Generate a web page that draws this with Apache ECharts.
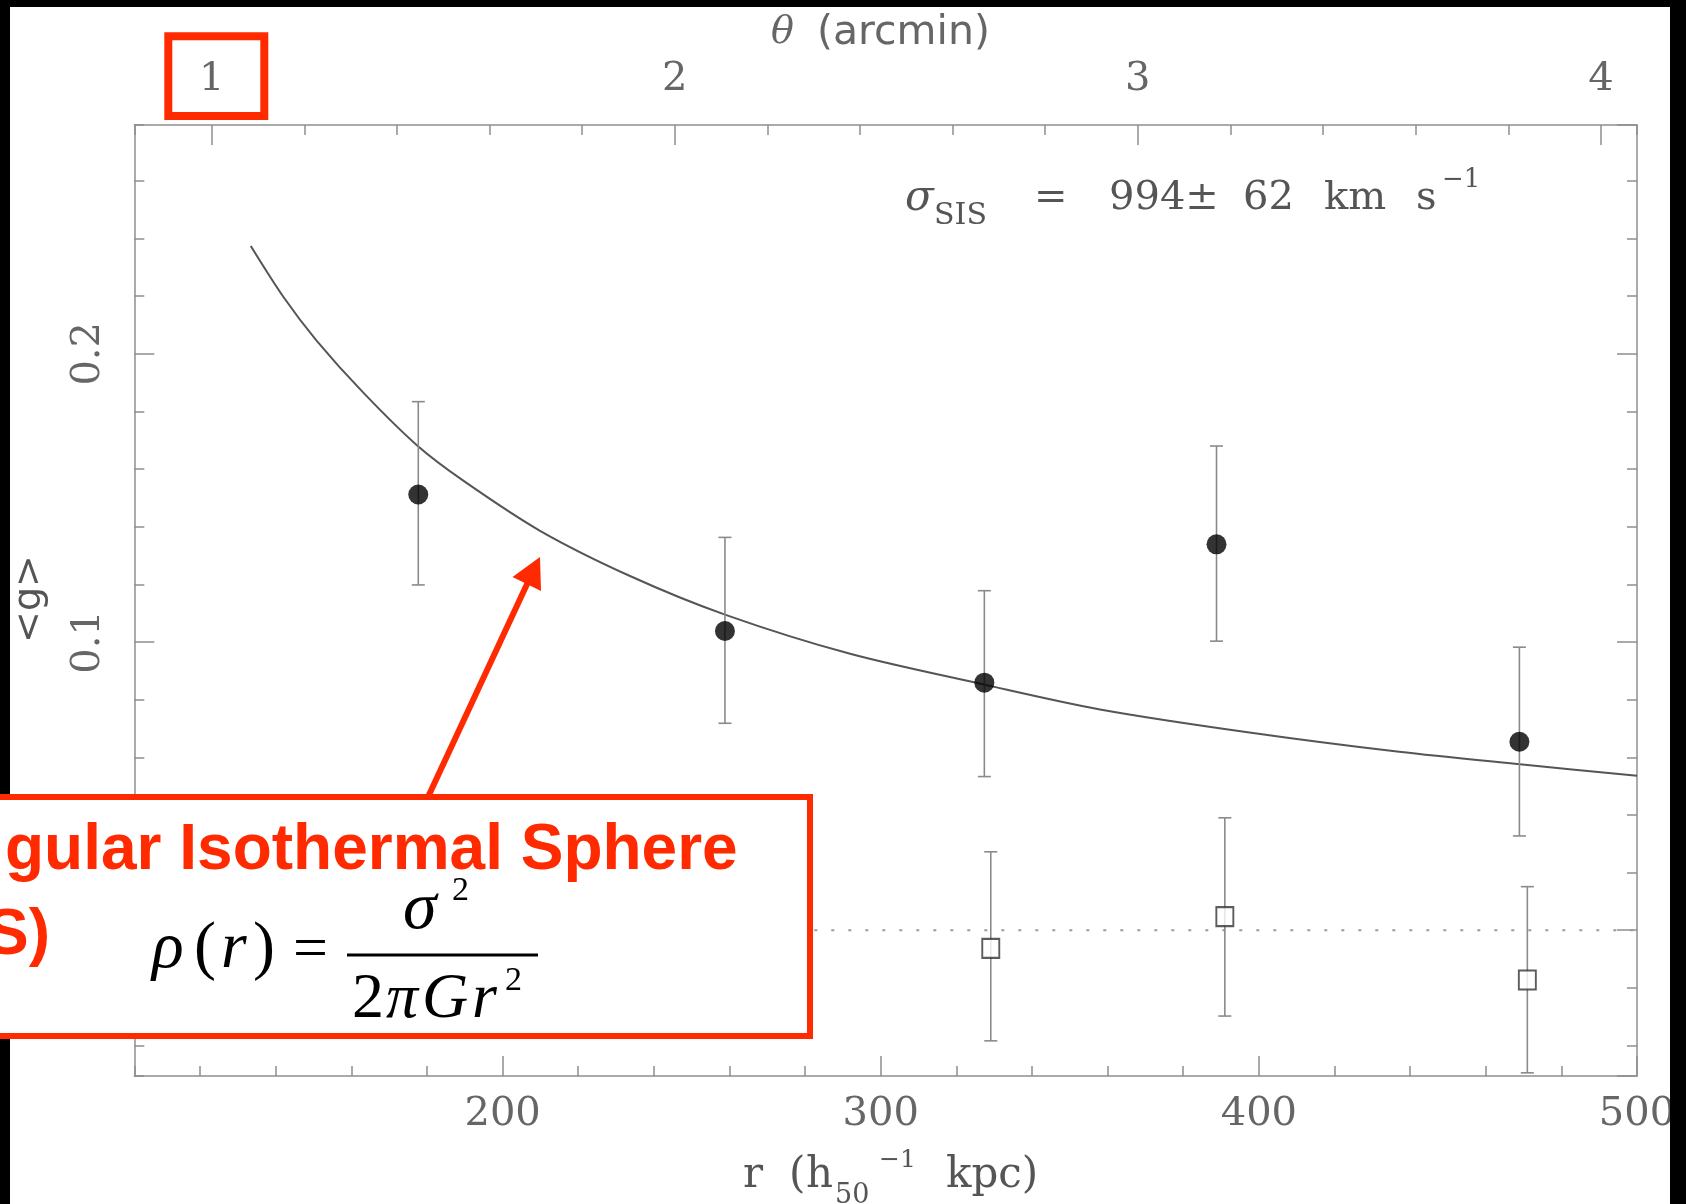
<!DOCTYPE html>
<html><head><meta charset="utf-8">
<script src="https://cdn.jsdelivr.net/npm/echarts@6/dist/echarts.min.js"></script>
<style>html,body{margin:0;padding:0;background:#fff;} #c{width:1686px;height:1204px;}</style>
</head><body><div id="c"></div>
<script>
// ---- axis extents ----
const rRange = [102.6, 500];          // r (h50^-1 kpc), bottom axis
const thetaRange = [0.833, 4.078];    // theta (arcmin), top axis
const gRange = [-0.0506, 0.2794];     // <g>

// ---- filled circles with error bars ----
const filledR    = [177.7, 258.8, 327.4, 388.8, 468.9];
const filledG    = [0.1512, 0.1038, 0.0859, 0.1339, 0.0654];
const filledLow  = [0.1198, 0.0718, 0.0533, 0.1003, 0.0327];
const filledHigh = [0.1834, 0.1363, 0.1178, 0.1680, 0.0982];

// ---- open squares with error bars ----
const openR    = [329.1, 391.0, 471.0];
const openG    = [-0.0063, 0.0047, -0.0173];
const openLow  = [-0.0384, -0.0298, -0.0495];
const openHigh = [0.0272, 0.0390, 0.0151];

// ---- SIS fit curve ----
const curveR = [133.4, 142.0, 150.8, 163.1, 177.4, 189.6, 209.9, 233.7, 258.8, 291.9, 327.1, 358.0, 397.5, 437.1, 469.7, 500];
const curveG = [0.2374, 0.2198, 0.2046, 0.1866, 0.1682, 0.1560, 0.1386, 0.1229, 0.1095, 0.0959, 0.0853, 0.0766, 0.0686, 0.0619, 0.0575, 0.0536];

// ---- dotted zero line ----
const zeroR = [102.6, 500];
const zeroG = [0, 0];

const RED = '#ff2a00';
const AX = '#8f8f8f';
const LBL = '#666';

function errorBarItem(params, api) {
  const x = api.value(0), lo = api.value(1), hi = api.value(2);
  const pLo = api.coord([x, lo]), pHi = api.coord([x, hi]);
  const cap = 6.5;
  const style = {stroke: '#8a8a8a', lineWidth: 1.6};
  return {type: 'group', children: [
    {type: 'line', shape: {x1: pLo[0], y1: pLo[1], x2: pHi[0], y2: pHi[1]}, style: style},
    {type: 'line', shape: {x1: pLo[0] - cap, y1: pLo[1], x2: pLo[0] + cap, y2: pLo[1]}, style: style},
    {type: 'line', shape: {x1: pHi[0] - cap, y1: pHi[1], x2: pHi[0] + cap, y2: pHi[1]}, style: style}
  ]};
}

function T(text, x, y, o) {
  o = o || {};
  return {
    type: 'text', x: x, y: y, z: o.z || 20, rotation: o.rotation || 0,
    style: {
      text: text,
      fontFamily: o.family || 'DejaVu Serif',
      fontSize: o.size || 40,
      fontStyle: o.style || 'normal',
      fontWeight: o.weight || 'normal',
      fill: o.fill || '#555',
      align: o.align || 'left',
      verticalAlign: 'middle'
    }
  };
}

const F = 'Liberation Serif';
const graphics = [
  // black frame bands
  {type: 'rect', shape: {x: 0, y: 0, width: 10, height: 1204}, style: {fill: '#000'}, z: 50},
  {type: 'rect', shape: {x: 0, y: 0, width: 1686, height: 7}, style: {fill: '#000'}, z: 50},
  {type: 'rect', shape: {x: 1670, y: 0, width: 16, height: 1204}, style: {fill: '#000'}, z: 50},

  // sigma label
  T('σ', 905, 199, {size: 42, style: 'italic'}),
  T('SIS', 934, 216.6, {size: 30}),
  T('=', 1034, 199),
  T('994±', 1109, 199),
  T('62', 1243, 199),
  T('km', 1324, 199),
  T('s', 1416, 199),
  T('−1', 1442, 180, {size: 26}),

  // top title
  T('θ', 771, 33, {size: 38, style: 'italic', fill: '#666'}),
  T('(arcmin)', 817, 33, {family: 'DejaVu Sans', size: 41, fill: '#666'}),

  // bottom axis name
  T('r', 743, 1176, {size: 42}),
  T('(', 789, 1176, {size: 42}),
  T('h', 806, 1176, {size: 42}),
  T('50', 835, 1196, {size: 27}),
  T('−1', 879, 1160, {size: 25}),
  T('kpc)', 946, 1176, {size: 42}),

  // y axis name
  T('<g>', 30, 599, {family: 'DejaVu Sans', size: 38, align: 'center', rotation: Math.PI / 2}),

  // red box around "1"
  {type: 'rect', shape: {x: 168.3, y: 36.3, width: 96, height: 79.7}, style: {fill: 'none', stroke: RED, lineWidth: 8}, z: 100},

  // arrow
  {type: 'line', shape: {x1: 428, y1: 797, x2: 528, y2: 582}, style: {stroke: RED, lineWidth: 6}, z: 100},
  {type: 'polygon', shape: {points: [[540, 557], [512.5, 577], [541, 591]]}, style: {fill: RED}, z: 100},

  // annotation box
  {type: 'rect', shape: {x: -20, y: 797, width: 830, height: 239}, style: {fill: '#fff', stroke: RED, lineWidth: 6}, z: 100},
  T('gular Isothermal Sphere', 5, 851, {family: 'Liberation Sans', size: 64, weight: 'bold', fill: RED, z: 110}),
  T('S)', 50, 936, {family: 'Liberation Sans', size: 64, weight: 'bold', fill: RED, align: 'right', z: 110}),

  // formula
  T('ρ', 152, 950, {family: F, size: 66, style: 'italic', fill: '#000', z: 110}),
  T('(', 194, 950, {family: F, size: 66, fill: '#000', z: 110}),
  T('r', 221, 950, {family: F, size: 66, style: 'italic', fill: '#000', z: 110}),
  T(')', 253, 950, {family: F, size: 66, fill: '#000', z: 110}),
  T('=', 293, 952, {family: F, size: 62, fill: '#000', z: 110}),
  {type: 'line', shape: {x1: 347, y1: 955, x2: 538, y2: 955}, style: {stroke: '#000', lineWidth: 3}, z: 110},
  T('σ', 403, 910, {family: F, size: 68, style: 'italic', fill: '#000', z: 110}),
  T('2', 452, 891, {family: F, size: 34, fill: '#000', z: 110}),
  T('2', 352, 1000, {family: F, size: 64, fill: '#000', z: 110}),
  T('π', 386, 1000, {family: F, size: 64, style: 'italic', fill: '#000', z: 110}),
  T('G', 422, 1000, {family: F, size: 64, style: 'italic', fill: '#000', z: 110}),
  T('r', 472, 1000, {family: F, size: 64, style: 'italic', fill: '#000', z: 110}),
  T('2', 505, 981, {family: F, size: 34, fill: '#000', z: 110})
];

const lineStyleAx = {color: AX, width: 1.5};
const labelBase = {fontFamily: 'DejaVu Serif', fontSize: 40, color: LBL};

function majorAxis(pos, range, interval, splitNumber, labelOpt) {
  return {
    type: 'value', position: pos, min: range[0], max: range[1],
    splitNumber: splitNumber, minInterval: interval, maxInterval: interval,
    axisLine: {show: true, onZero: false, lineStyle: lineStyleAx},
    axisTick: {show: true, inside: true, length: 20, lineStyle: lineStyleAx},
    axisLabel: labelOpt,
    splitLine: {show: false}
  };
}
function minorAxis(pos, range, interval, splitNumber) {
  return {
    type: 'value', position: pos, min: range[0], max: range[1],
    splitNumber: splitNumber, minInterval: interval, maxInterval: interval,
    axisLine: {show: false, onZero: false},
    axisTick: {show: true, inside: true, length: 10, lineStyle: lineStyleAx},
    axisLabel: {show: false},
    splitLine: {show: false}
  };
}

const option = {
  animation: false,
  backgroundColor: '#fff',
  grid: {left: 134.3, top: 125, right: 49, bottom: 128, containLabel: false, outerBoundsMode: 'none'},
  xAxis: [
    majorAxis('bottom', rRange, 100, 4, Object.assign({}, labelBase, {margin: 19, showMinLabel: false})),
    minorAxis('bottom', rRange, 20, 20),
    majorAxis('top', thetaRange, 1, 3, Object.assign({}, labelBase, {margin: 25, showMinLabel: false, showMaxLabel: false})),
    minorAxis('top', thetaRange, 0.2, 16)
  ],
  yAxis: [
    majorAxis('left', gRange, 0.1, 3, Object.assign({}, labelBase, {margin: 26, rotate: 90, showMinLabel: false, showMaxLabel: false})),
    minorAxis('left', gRange, 0.02, 16),
    majorAxis('right', gRange, 0.1, 3, {show: false}),
    minorAxis('right', gRange, 0.02, 16)
  ],
  series: [
    {type: 'line', data: zeroR.map((r, i) => [r, zeroG[i]]), symbol: 'none', silent: true, z: 1,
     lineStyle: {color: '#9a9a9a', width: 2, type: [3, 14]}},
    {type: 'line', data: curveR.map((r, i) => [r, curveG[i]]), smooth: 0.3, symbol: 'none', silent: true, z: 2,
     lineStyle: {color: '#555', width: 2}},
    {type: 'custom', renderItem: errorBarItem, encode: {x: 0, y: [1, 2]}, silent: true, z: 3,
     data: filledR.map((r, i) => [r, filledLow[i], filledHigh[i]])},
    {type: 'custom', renderItem: errorBarItem, encode: {x: 0, y: [1, 2]}, silent: true, z: 3,
     data: openR.map((r, i) => [r, openLow[i], openHigh[i]])},
    {type: 'scatter', data: filledR.map((r, i) => [r, filledG[i]]), symbol: 'circle', symbolSize: 20, silent: true, z: 5,
     itemStyle: {color: '#000'}},
    {type: 'scatter', data: openR.map((r, i) => [r, openG[i]]), symbol: 'rect', symbolSize: [17, 19], silent: true, z: 5,
     itemStyle: {color: '#fff', borderColor: '#333', borderWidth: 2}}
  ],
  graphic: graphics
};

const chart = echarts.init(document.getElementById('c'), null, {renderer: 'canvas'});
chart.setOption(option);
</script>
</body></html>
